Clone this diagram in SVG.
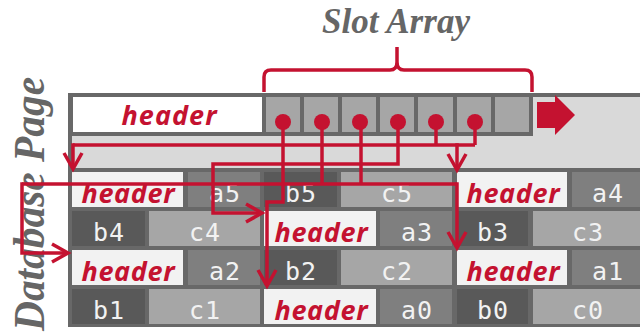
<svg xmlns="http://www.w3.org/2000/svg" width="640" height="332" viewBox="0 0 640 332">
  <style>
    .frame { fill: #686868; }
    .hdr { fill: #f2f2f2; }
    .slot { fill: #a6a6a6; }
    .free { fill: #d9d9d9; }
    .ca { fill: #7f7f7f; }
    .cb { fill: #595959; }
    .cc { fill: #a6a6a6; }
    .htxt { font-family: "Open Sans", "Noto Sans", sans-serif; font-weight: bold; font-style: italic; font-size: 27px; fill: #c41230; text-anchor: middle; }
    .vtxt { font-family: "DejaVu Sans Mono", monospace; font-size: 25px; fill: #f2f2f2; text-anchor: middle; letter-spacing: 1px; }
    .title { font-family: "Liberation Serif", serif; font-weight: bold; font-style: italic; fill: #666666; }
    .link { fill: none; stroke: #c41230; stroke-width: 3.5; stroke-linejoin: miter; }
    .dot { fill: #c41230; }
  </style>
  <defs>
    <marker id="vhead" markerUnits="userSpaceOnUse" markerWidth="24" markerHeight="24" viewBox="-20 -12 24 24" refX="0" refY="0" orient="auto">
      <path d="M-16,-9 L0,0 L-16,9" fill="none" stroke="#c41230" stroke-width="3.5"/>
    </marker>
  </defs>

  <!-- page outline and top strip -->
  <g id="page">
    <rect class="frame" x="68" y="93" width="580" height="234"/>
    <rect class="free" x="72" y="136" width="572" height="32"/>
    <rect class="free" x="533" y="97" width="111" height="71"/>
    <polygon points="537,102 555,102 555,95 575,115 555,135 555,128 537,128" fill="#c41230"/>
  </g>

  <g id="page-header">
    <rect x="73" y="97" width="189" height="35" fill="#ffffff"/>
    <text class="htxt" x="169" y="125" textLength="95">header</text>
  </g>

  <g id="slot-array">
    <rect class="slot" x="266" y="97" width="34" height="35"/>
    <rect class="slot" x="304" y="97" width="34" height="35"/>
    <rect class="slot" x="342" y="97" width="34" height="35"/>
    <rect class="slot" x="380" y="97" width="34" height="35"/>
    <rect class="slot" x="418" y="97" width="35" height="35"/>
    <rect class="slot" x="457" y="97" width="34" height="35"/>
    <rect class="slot" x="495" y="97" width="34" height="35"/>
    <path class="link" d="M264,92 V77 Q264,70 271,70 H390 Q397,70 397,62 V47 V62 Q397,70 404,70 H525 Q532,70 532,77 V92"/>
    <text class="title" x="396" y="33" font-size="35" text-anchor="middle" textLength="148">Slot Array</text>
  </g>

  <text class="title" transform="translate(44,331) rotate(-90)" font-size="44" textLength="254" lengthAdjust="spacingAndGlyphs">Database Page</text>

  <!-- tuple 5 -->
  <g id="tuple5">
    <rect class="hdr" x="72" y="172" width="111" height="35"/>
    <text class="htxt" x="128" y="203" textLength="93">header</text>
    <rect class="ca" x="188" y="172" width="72" height="35"/>
    <text class="vtxt" x="225" y="202">a5</text>
    <rect class="cb" x="264" y="172" width="73" height="35"/>
    <text class="vtxt" x="301" y="202">b5</text>
    <rect class="cc" x="341" y="172" width="111" height="35"/>
    <text class="vtxt" x="397" y="202">c5</text>
  </g>

  <!-- tuple 4 -->
  <g id="tuple4">
    <rect class="hdr" x="457" y="172" width="110" height="35"/>
    <text class="htxt" x="513" y="203" textLength="93">header</text>
    <rect class="ca" x="572" y="172" width="72" height="35"/>
    <text class="vtxt" x="608" y="202">a4</text>
    <rect class="cb" x="72" y="211" width="73" height="35"/>
    <text class="vtxt" x="109" y="241">b4</text>
    <rect class="cc" x="149" y="211" width="111" height="35"/>
    <text class="vtxt" x="205" y="241">c4</text>
  </g>

  <!-- tuple 3 -->
  <g id="tuple3">
    <rect class="hdr" x="264" y="211" width="112" height="35"/>
    <text class="htxt" x="321" y="242" textLength="93">header</text>
    <rect class="ca" x="380" y="211" width="72" height="35"/>
    <text class="vtxt" x="417" y="241">a3</text>
    <rect class="cb" x="457" y="211" width="71" height="35"/>
    <text class="vtxt" x="493" y="241">b3</text>
    <rect class="cc" x="533" y="211" width="111" height="35"/>
    <text class="vtxt" x="588" y="241">c3</text>
  </g>

  <!-- tuple 2 -->
  <g id="tuple2">
    <rect class="hdr" x="72" y="250" width="111" height="35"/>
    <text class="htxt" x="128" y="281" textLength="93">header</text>
    <rect class="ca" x="188" y="250" width="72" height="35"/>
    <text class="vtxt" x="225" y="280">a2</text>
    <rect class="cb" x="264" y="250" width="73" height="35"/>
    <text class="vtxt" x="301" y="280">b2</text>
    <rect class="cc" x="341" y="250" width="111" height="35"/>
    <text class="vtxt" x="397" y="280">c2</text>
  </g>

  <!-- tuple 1 -->
  <g id="tuple1">
    <rect class="hdr" x="457" y="250" width="110" height="35"/>
    <text class="htxt" x="513" y="281" textLength="93">header</text>
    <rect class="ca" x="572" y="250" width="72" height="35"/>
    <text class="vtxt" x="608" y="280">a1</text>
    <rect class="cb" x="72" y="289" width="73" height="35"/>
    <text class="vtxt" x="109" y="319">b1</text>
    <rect class="cc" x="149" y="289" width="111" height="35"/>
    <text class="vtxt" x="205" y="319">c1</text>
  </g>

  <!-- tuple 0 -->
  <g id="tuple0">
    <rect class="hdr" x="264" y="289" width="112" height="35"/>
    <text class="htxt" x="321" y="320" textLength="93">header</text>
    <rect class="ca" x="380" y="289" width="72" height="35"/>
    <text class="vtxt" x="417" y="319">a0</text>
    <rect class="cb" x="457" y="289" width="71" height="35"/>
    <text class="vtxt" x="493" y="319">b0</text>
    <rect class="cc" x="533" y="289" width="111" height="35"/>
    <text class="vtxt" x="588" y="319">c0</text>
  </g>

  <!-- slot pointers -->
  <g id="connectors">
    <path class="link" d="M283,122 V202 H267 V286" marker-end="url(#vhead)"/>
    <path class="link" d="M322,122 V184"/>
    <path class="link" d="M361,122 V184"/>
    <path class="link" d="M22,184 H457"/>
    <path class="link" d="M22,182.25 V253 H68" marker-end="url(#vhead)"/>
    <path class="link" d="M457,182.25 V248" marker-end="url(#vhead)"/>
    <path class="link" d="M398,122 V164 H213 V213 H262" marker-end="url(#vhead)"/>
    <path class="link" d="M436,122 V145"/>
    <path class="link" d="M475,122 V145"/>
    <path class="link" d="M73,145 H475"/>
    <path class="link" d="M73,143.25 V169" marker-end="url(#vhead)"/>
    <path class="link" d="M457,143.25 V170" marker-end="url(#vhead)"/>
    <circle class="dot" cx="283" cy="122" r="8"/>
    <circle class="dot" cx="322" cy="122" r="8"/>
    <circle class="dot" cx="360" cy="122" r="8"/>
    <circle class="dot" cx="398" cy="122" r="8"/>
    <circle class="dot" cx="436" cy="122" r="8"/>
    <circle class="dot" cx="475" cy="122" r="8"/>
  </g>
</svg>
